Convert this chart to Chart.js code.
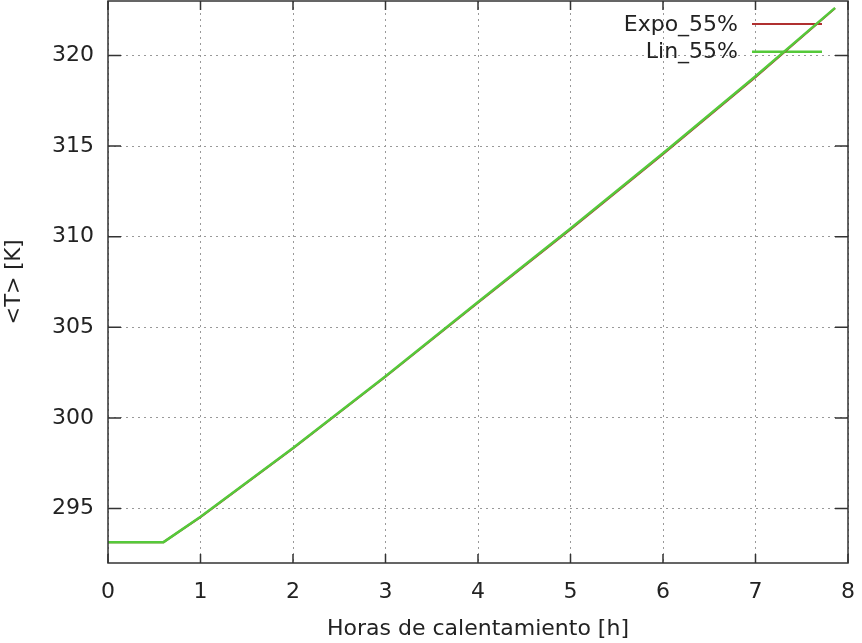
<!DOCTYPE html>
<html>
<head>
<meta charset="utf-8">
<script src="https://cdn.jsdelivr.net/npm/chart.js@4/dist/chart.umd.min.js"></script>
<style>
  html, body { margin: 0; padding: 0; background: #fff; }
  #wrap { width: 862px; height: 643px; }
</style>
</head>
<body>
<div id="wrap"><canvas id="chart"></canvas></div>
<script>
// time axis (hours of heating) and mean temperature readings
const hours    = [0, 0.6, 1, 2, 3, 4, 5, 6, 7, 7.86];
const tempExpo = [293.15, 293.15, 294.53, 298.32, 302.27, 306.36, 310.40, 314.55, 318.80, 322.60];
const tempLin  = [293.15, 293.15, 294.55, 298.35, 302.30, 306.40, 310.45, 314.60, 318.85, 322.62];
const xTicks = [0, 1, 2, 3, 4, 5, 6, 7, 8];
const yTicks = [295, 300, 305, 310, 315, 320];

const FONT = 'DejaVu Sans';
const TEXT = '#222';

const toPoints = (xs, ys) => xs.map((x, i) => ({ x: x, y: ys[i] }));

// gnuplot-ish frame: box border + inward ticks on all four sides
const framePlugin = {
  id: 'frame',
  afterDraw(chart) {
    const { ctx, chartArea: a, scales } = chart;
    ctx.save();
    ctx.strokeStyle = '#333';
    ctx.lineWidth = 1.5;
    ctx.beginPath();
    scales.x.ticks.forEach(t => {
      const px = scales.x.getPixelForValue(t.value);
      ctx.moveTo(px, a.bottom); ctx.lineTo(px, a.bottom - 9);
      ctx.moveTo(px, a.top); ctx.lineTo(px, a.top + 9);
    });
    scales.y.ticks.forEach(t => {
      const py = scales.y.getPixelForValue(t.value);
      ctx.moveTo(a.left, py); ctx.lineTo(a.left + 13, py);
      ctx.moveTo(a.right, py); ctx.lineTo(a.right - 13, py);
    });
    ctx.stroke();
    ctx.strokeRect(a.left, a.top, a.right - a.left, a.bottom - a.top);
    ctx.restore();
  }
};

// key in the top right corner, text right aligned then sample line
const keyPlugin = {
  id: 'key',
  beforeDatasetsDraw(chart) {
    const { ctx } = chart;
    ctx.save();
    ctx.font = '22px "' + FONT + '"';
    ctx.textAlign = 'right';
    ctx.textBaseline = 'middle';
    chart.data.datasets.forEach((ds, i) => {
      const y = 24 + i * 27.7;
      ctx.fillStyle = TEXT;
      ctx.fillText(ds.label, 738, y + 1);
      ctx.strokeStyle = ds.borderColor;
      ctx.lineWidth = ds.borderWidth;
      ctx.beginPath();
      ctx.moveTo(752, y);
      ctx.lineTo(822, y);
      ctx.stroke();
    });
    ctx.restore();
  }
};

new Chart(document.getElementById('chart'), {
  type: 'line',
  data: {
    datasets: [
      {
        label: 'Expo_55%',
        data: toPoints(hours, tempExpo),
        borderColor: '#b03030',
        borderWidth: 2,
        pointRadius: 0,
        tension: 0,
        order: 1
      },
      {
        label: 'Lin_55%',
        data: toPoints(hours, tempLin),
        borderColor: '#55c93a',
        borderWidth: 2.5,
        pointRadius: 0,
        tension: 0,
        order: 0
      }
    ]
  },
  options: {
    responsive: true,
    maintainAspectRatio: false,
    animation: false,
    layout: { padding: { top: 1, right: 14, left: 0, bottom: 0 } },
    scales: {
      x: {
        type: 'linear',
        min: 0,
        max: 8,
        afterBuildTicks: s => { s.ticks = xTicks.map(v => ({ value: v })); },
        afterFit: s => { s.height = 80; s.paddingLeft = 0; s.paddingRight = 0; },
        grid: { color: '#999', lineWidth: 1, drawTicks: false },
        border: { display: false, dash: [2, 4] },
        ticks: { color: TEXT, font: { family: FONT, size: 22 }, padding: 16, maxRotation: 0 },
        title: {
          display: true,
          text: 'Horas de calentamiento [h]',
          color: TEXT,
          font: { family: FONT, size: 22 },
          padding: { top: 0, bottom: 1 }
        }
      },
      y: {
        min: 292,
        max: 323,
        afterBuildTicks: s => { s.ticks = yTicks.map(v => ({ value: v })); },
        afterFit: s => { s.width = 108; s.paddingTop = 0; s.paddingBottom = 0; },
        grid: { color: '#999', lineWidth: 1, drawTicks: false },
        border: { display: false, dash: [2, 4] },
        ticks: { color: TEXT, font: { family: FONT, size: 22 }, padding: 14 },
        title: {
          display: true,
          text: '<T> [K]',
          color: TEXT,
          font: { family: FONT, size: 21 },
          padding: { top: 2, bottom: 0 }
        }
      }
    },
    plugins: {
      legend: { display: false },
      tooltip: { enabled: false }
    }
  },
  plugins: [framePlugin, keyPlugin]
});
</script>
</body>
</html>
